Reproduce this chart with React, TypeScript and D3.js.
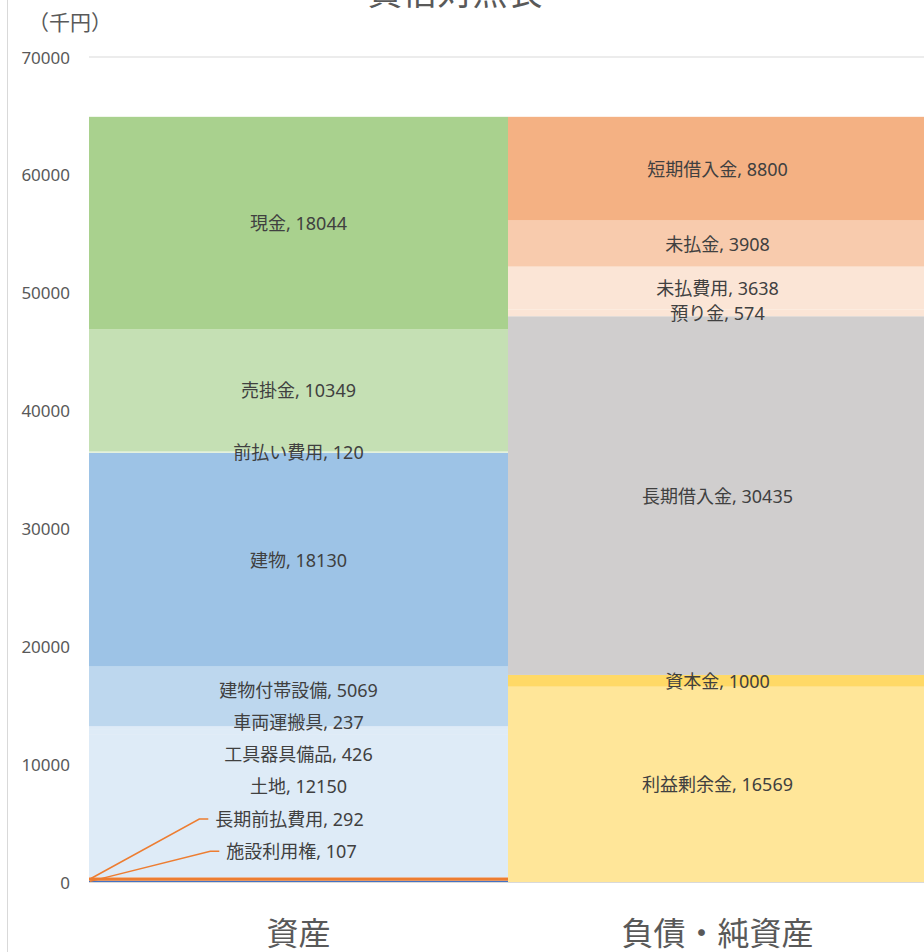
import React, { useEffect, useRef } from 'react';
import * as d3 from 'd3';

const categories = ['資産', '負債・純資産'];

// bottom to top
const assetNames = ['施設利用権', '長期前払費用', '土地', '工具器具備品', '車両運搬具', '建物付帯設備', '建物', '前払い費用', '売掛金', '現金'];
const assetValues = [107, 292, 12150, 426, 237, 5069, 18130, 120, 10349, 18044];
const assetColors = ['#4472C4', '#ED7D31', '#DEEBF7', '#DEEBF7', '#DEEBF7', '#BDD7EE', '#9DC3E6', '#E2F0D9', '#C5E0B4', '#A9D18E'];

const liabNames = ['利益剰余金', '資本金', '長期借入金', '預り金', '未払費用', '未払金', '短期借入金'];
const liabValues = [16569, 1000, 30435, 574, 3638, 3908, 8800];
const liabColors = ['#FFE699', '#FFD966', '#D0CECE', '#FBE5D6', '#FBE5D6', '#F8CBAD', '#F4B183'];

const yTicks = [0, 10000, 20000, 30000, 40000, 50000, 60000, 70000];

// manual label nudges in px (like dragged labels in Excel)
const labelNudge: Record<string, [number, number]> = {
  建物付帯設備: [0, -6],
  車両運搬具: [0, -6],
  工具器具備品: [0, 22],
  土地: [0, -20],
  長期前払費用: [-9, -60],
  施設利用権: [-7, -30],
};
const leaderLabels = ['長期前払費用', '施設利用権'];

const FONT = "'Noto Sans', 'Noto Sans CJK JP', sans-serif";

export default function App() {
  const ref = useRef<SVGSVGElement>(null);

  useEffect(() => {
    const width = 924;
    const height = 952;
    const svg = d3.select(ref.current);
    svg.selectAll('*').remove();
    svg.attr('width', width).attr('height', height).style('font-family', FONT);

    svg.append('rect').attr('width', width).attr('height', height).attr('fill', '#fff');
    // chart area border
    svg.append('rect')
      .attr('x', 7.5).attr('y', -20)
      .attr('width', 1000).attr('height', 2000)
      .attr('fill', 'none').attr('stroke', '#D9D9D9');

    const x = d3.scaleBand().domain(categories).range([89, 927]).padding(0);
    const y = d3.scaleLinear().domain([0, 70000]).range([882, 57]);

    // gridlines
    svg.append('g')
      .selectAll('line')
      .data(yTicks)
      .join('line')
      .attr('x1', 89).attr('x2', 927)
      .attr('y1', (d) => y(d)).attr('y2', (d) => y(d))
      .attr('stroke', '#D9D9D9').attr('stroke-width', 1);

    svg.append('g')
      .selectAll('text')
      .data(yTicks)
      .join('text')
      .attr('x', 70).attr('y', (d) => y(d))
      .attr('text-anchor', 'end').attr('dominant-baseline', 'central')
      .attr('fill', '#595959').attr('font-size', 17)
      .text((d) => d);

    const stacks = [
      { cat: categories[0], names: assetNames, values: assetValues, colors: assetColors },
      { cat: categories[1], names: liabNames, values: liabValues, colors: liabColors },
    ];

    const barLayer = svg.append('g');
    const labelLayer = svg.append('g');
    stacks.forEach((s) => {
      const cum = d3.cumsum(s.values);
      const segs = s.values.map((v, i) => ({
        name: s.names[i], value: v, color: s.colors[i],
        y0: cum[i] - v, y1: cum[i],
      }));
      const bx = x(s.cat)!;
      barLayer.append('g')
        .selectAll('rect')
        .data(segs)
        .join('rect')
        .attr('x', bx).attr('width', x.bandwidth())
        .attr('y', (d) => y(d.y1)).attr('height', (d) => y(d.y0) - y(d.y1))
        .attr('fill', (d) => d.color);

      segs.forEach((d) => {
        const nudge = labelNudge[d.name] || [0, 0];
        const cx = bx + x.bandwidth() / 2 + nudge[0];
        const cy = y((d.y0 + d.y1) / 2) + nudge[1];
        const t = labelLayer.append('text')
          .attr('x', cx).attr('y', cy)
          .attr('text-anchor', 'middle').attr('dominant-baseline', 'central')
          .attr('fill', '#404040').attr('font-size', 18)
          .text(`${d.name}, ${d.value}`);
        if (leaderLabels.includes(d.name)) {
          const w = (t.node() as SVGTextElement).getComputedTextLength();
          const left = cx - w / 2 - 7;
          const ax = bx + 1;
          const ay = y((d.y0 + d.y1) / 2);
          labelLayer.append('path')
            .attr('d', d3.line()([[ax, ay], [left - 9, cy], [left, cy]]))
            .attr('fill', 'none').attr('stroke', '#ED7D31').attr('stroke-width', 1.5);
        }
      });
    });

    // baseline axis
    svg.append('line')
      .attr('x1', 89).attr('x2', 927)
      .attr('y1', y(0) + 0.5).attr('y2', y(0) + 0.5)
      .attr('stroke', '#D9D9D9');

    svg.append('g')
      .selectAll('text')
      .data(categories)
      .join('text')
      .attr('x', (d) => x(d)! + x.bandwidth() / 2)
      .attr('y', 932)
      .attr('text-anchor', 'middle').attr('dominant-baseline', 'central')
      .attr('fill', '#595959').attr('font-size', 32)
      .text((d) => d);

    svg.append('text')
      .attr('x', 28).attr('y', 22)
      .attr('dominant-baseline', 'central')
      .attr('fill', '#595959').attr('font-size', 21)
      .text('（千円）');

    svg.append('text')
      .attr('x', 455).attr('y', 5)
      .attr('text-anchor', 'middle')
      .attr('fill', '#595959').attr('font-size', 35)
      .text('貸借対照表');
  }, []);

  return (
    <div style={{ position: 'absolute', left: 0, top: 0 }}>
      <svg ref={ref} style={{ display: 'block' }} />
    </div>
  );
}
